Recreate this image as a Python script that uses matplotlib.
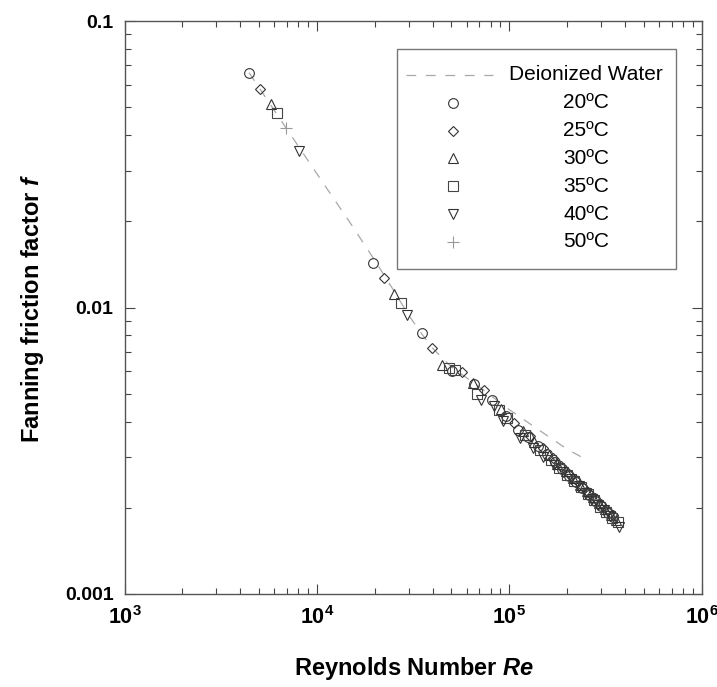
import matplotlib
matplotlib.use("Agg")
import matplotlib.pyplot as plt
from matplotlib.lines import Line2D
from matplotlib.patches import Rectangle

plt.rcParams['font.family'] = ['Liberation Sans', 'DejaVu Sans']
plt.rcParams['mathtext.fontset'] = 'custom'
plt.rcParams['mathtext.rm'] = 'Liberation Sans'
plt.rcParams['mathtext.bf'] = 'Liberation Sans:bold'
plt.rcParams['mathtext.it'] = 'Liberation Sans:bold:italic'
plt.rcParams['lines.scale_dashes'] = False

# ---- data ----
water_re = [4440, 6000, 8000, 10000, 15000, 20000, 25000, 30000, 35000, 40000,
            50000, 70000, 100000, 150000, 200000, 248000]
water_f = [0.0660, 0.0488, 0.0366, 0.0293, 0.0196, 0.0146, 0.0115, 0.0094, 0.0081,
           0.0072, 0.0062, 0.00528, 0.0044, 0.00365, 0.0032, 0.00296]

re_20 = [4440, 19530, 35120, 50300, 65160, 81210, 96400, 111600, 125800, 141800,
         156900, 172000, 188000, 205000, 222000, 240000, 260000, 280000, 300000,
         325000, 345000]
f_20 = [0.0660, 0.01434, 0.00813, 0.00600, 0.00541, 0.00474, 0.00418, 0.00375,
        0.00352, 0.00328, 0.00307, 0.00289, 0.00273, 0.00259, 0.00246, 0.00234,
        0.00222, 0.00212, 0.00203, 0.00192, 0.00186]

re_25 = [5064, 22360, 39870, 57110, 74300, 105200, 128000, 150000, 168000, 185000,
         203000, 220000, 238000, 258000, 278000, 298000, 322000, 345000]
f_25 = [0.0581, 0.01265, 0.00720, 0.00597, 0.00514, 0.00396, 0.00357, 0.00322,
        0.00298, 0.00280, 0.00264, 0.00251, 0.00239, 0.00227, 0.00216, 0.00206,
        0.00196, 0.00188]

re_30 = [5778, 25290, 44930, 65000, 90780, 118000, 135000, 160000, 178000, 196000,
         214000, 232000, 252000, 272000, 292000, 315000, 338000, 360000]
f_30 = [0.0514, 0.01112, 0.00630, 0.00545, 0.00444, 0.00370, 0.00340, 0.00305,
        0.00285, 0.00268, 0.00254, 0.00241, 0.00229, 0.00218, 0.00208, 0.00198,
        0.00189, 0.00181]

re_35 = [6209, 27380, 48690, 52000, 67850, 88000, 97000, 120000, 145000, 165000,
         182000, 200000, 218000, 236000, 256000, 276000, 296000, 318000, 342000,
         366000]
f_35 = [0.0479, 0.01039, 0.00613, 0.00605, 0.00499, 0.00440, 0.00410, 0.00360,
        0.00318, 0.00293, 0.00276, 0.00261, 0.00248, 0.00236, 0.00223, 0.00213,
        0.00202, 0.00193, 0.00184, 0.00178]

re_40 = [8078, 29340, 71440, 82780, 92620, 113900, 132700, 150000, 170000, 190000,
         210000, 230000, 250000, 270000, 290000, 312000, 335000, 372000]
f_40 = [0.0353, 0.00941, 0.00474, 0.00453, 0.00401, 0.00349, 0.00322, 0.00300,
        0.00282, 0.00266, 0.00251, 0.00238, 0.00226, 0.00215, 0.00205, 0.00196,
        0.00187, 0.00172]

re_50 = [6920]
f_50 = [0.0424]

series_labels = ['20ºC', '25ºC', '30ºC', '35ºC', '40ºC', '50ºC']
water_label = 'Deionized Water'
x_tick_labels = [r'$\mathbf{10^{3}}$', r'$\mathbf{10^{4}}$', r'$\mathbf{10^{5}}$', r'$\mathbf{10^{6}}$']
y_tick_labels = ['0.001', '0.01', '0.1']

# ---- figure ----
W, H = 717, 687
fig = plt.figure(figsize=(W / 100, H / 100), dpi=100)
ax = fig.add_axes([124.5 / W, 1 - 594 / H, (701.7 - 124.5) / W, (594 - 21) / H])
ax.set_xscale('log')
ax.set_yscale('log')
ax.set_xlim(1e3, 1e6)
ax.set_ylim(1e-3, 1e-1)

dash_style = dict(color='#a8a8a8', lw=0.9, linestyle=(0, (7, 7)))
ax.plot(water_re, water_f, **dash_style)

ec = '#333333'
styles = [
    dict(marker='o', ms=7, mew=0.8),
    dict(marker='D', ms=4.6, mew=0.8),
    dict(marker='^', ms=7, mew=0.8),
    dict(marker='s', ms=6.5, mew=0.8),
    dict(marker='v', ms=7, mew=0.8),
    dict(marker='+', ms=8, mew=0.8),
]
data = [(re_20, f_20), (re_25, f_25), (re_30, f_30), (re_35, f_35), (re_40, f_40), (re_50, f_50)]
colors = [ec, ec, ec, '#444444', ec, '#999999']
for (xs, ys), st, c in zip(data, styles, colors):
    ax.plot(xs, ys, linestyle='none', mfc='none', mec=c, color=c, **st)

# ticks
ax.set_xticks([1e3, 1e4, 1e5, 1e6])
ax.set_xticklabels(x_tick_labels, fontsize=15.5)
ax.set_yticks([1e-3, 1e-2, 1e-1])
ax.set_yticklabels(y_tick_labels, fontsize=14, fontweight='bold')
ax.tick_params(which='both', direction='in', top=True, right=True, color='#444444', width=0.8)
ax.tick_params(which='major', length=7)
ax.tick_params(which='minor', length=4)
ax.tick_params(axis='x', which='major', pad=9)
ax.tick_params(axis='y', which='major', pad=8)
for s in ax.spines.values():
    s.set_color('#555555')
    s.set_linewidth(1.0)

# axis labels
fig.text(414 / W, 1 - 668 / H, r'Reynolds Number $\mathit{Re}$', ha='center', va='center',
         fontsize=17, fontweight='bold')
fig.text(33 / W, 1 - 308 / H, r'Fanning friction factor $\mathit{f}$', ha='center', va='center',
         fontsize=17, fontweight='bold', rotation=90)

# legend (drawn manually)
def fx(px):
    return px / W

def fy(py):
    return 1 - py / H

fig.patches.append(Rectangle((fx(397), fy(269)), fx(676) - fx(397), fy(49) - fy(269),
                             transform=fig.transFigure, fill=False, edgecolor='#777777', lw=1.0))
row_y = [75 + 27.8 * i for i in range(7)]
fig.lines.append(Line2D([fx(406), fx(493)], [fy(row_y[0])] * 2, transform=fig.transFigure, **dash_style))
fig.text(fx(586), fy(row_y[0]), water_label, ha='center', va='center', fontsize=15)
for i, (lab, st, c) in enumerate(zip(series_labels, styles, colors)):
    yy = fy(row_y[i + 1])
    fig.lines.append(Line2D([fx(453)], [yy], transform=fig.transFigure, linestyle='none',
                            mfc='none', mec=c, **st))
    fig.text(fx(586), yy, lab, ha='center', va='center', fontsize=15)

fig.savefig('out.png', dpi=100)
